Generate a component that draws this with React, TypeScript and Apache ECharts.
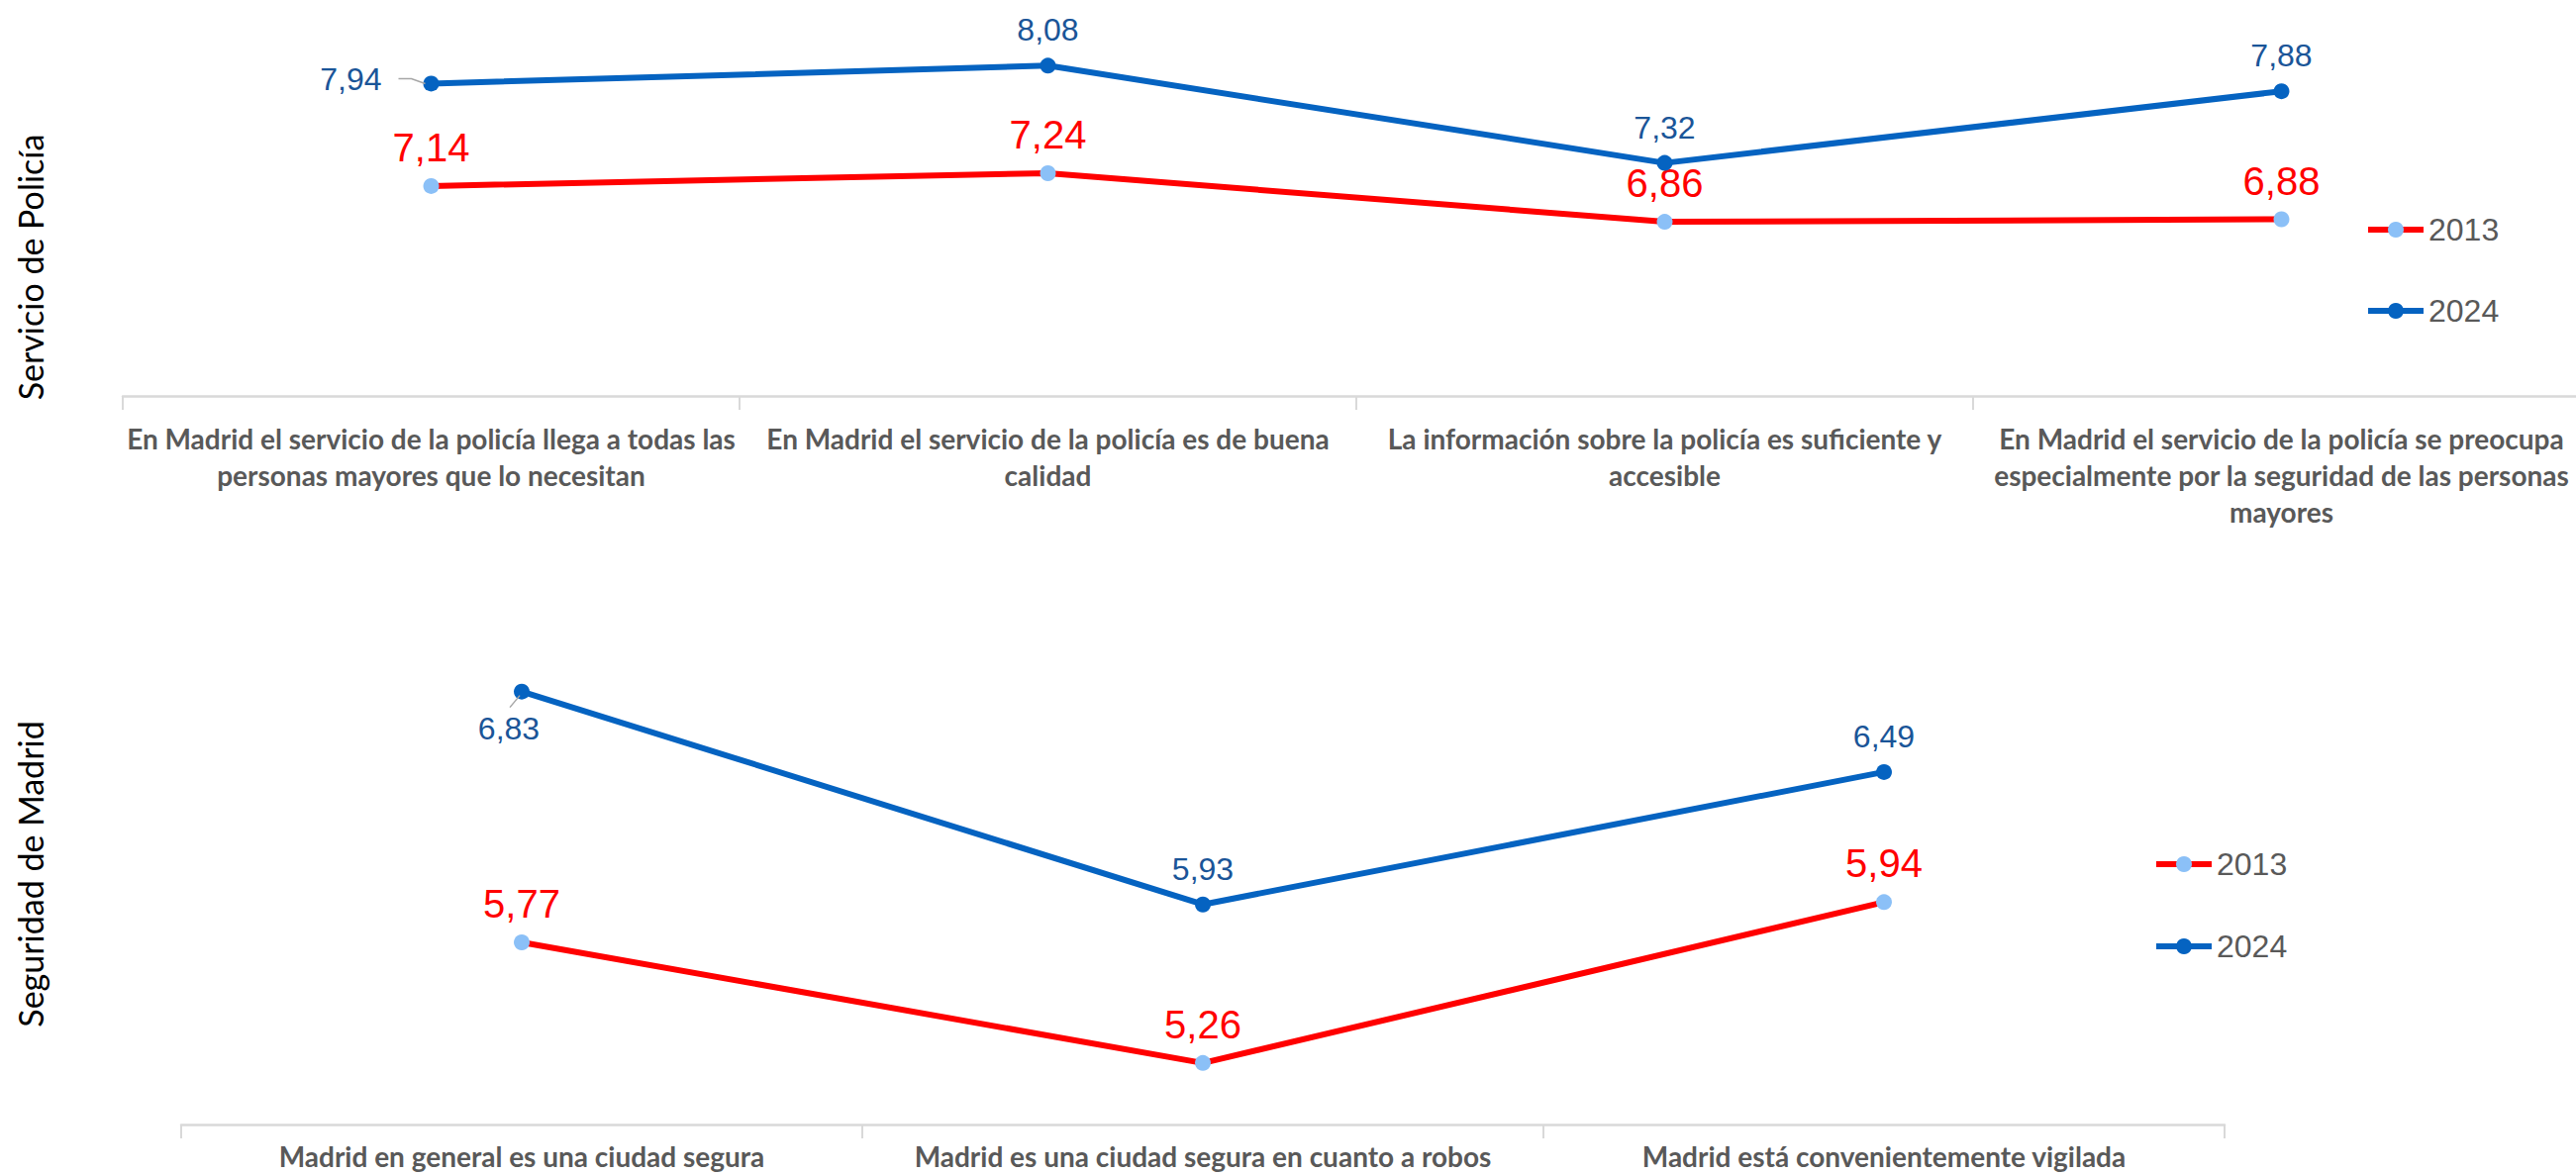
import React, { useEffect, useRef } from "react";
import * as echarts from "echarts";

const seriesNames = ["2013", "2024"];

const policeCategories = [
  "En Madrid el servicio de la policía llega a todas las\npersonas mayores que lo necesitan",
  "En Madrid el servicio de la policía es de buena\ncalidad",
  "La información sobre la policía es suficiente y\naccesible",
  "En Madrid el servicio de la policía se preocupa\nespecialmente por la seguridad de las personas\nmayores",
];
const police2013 = [7.14, 7.24, 6.86, 6.88];
const police2024 = [7.94, 8.08, 7.32, 7.88];

const safetyCategories = [
  "Madrid en general es una ciudad segura",
  "Madrid es una ciudad segura en cuanto a robos",
  "Madrid está convenientemente vigilada",
];
const safety2013 = [5.77, 5.26, 5.94];
const safety2024 = [6.83, 5.93, 6.49];

const panelTitles = ["Servicio de Policía", "Seguridad de Madrid"];

const RED = "#FF0000";
const RED_MARK = "#8BC0F7";
const BLUE = "#0563C1";
const BLUE_LABEL = "#1A5598";
const GREY_TEXT = "#595959";
const AXIS_GREY = "#D9D9D9";
const NUM_FONT = "'Liberation Sans', Arial, sans-serif";
const CAT_FONT = "Lato, 'Open Sans', sans-serif";

const fmt = (p: any) => Number(p.value).toFixed(2).replace(".", ",");

function makeSeries(
  name: string,
  values: number[],
  axisIndex: number,
  isRed: boolean,
  overrides: Record<number, any>
) {
  return {
    type: "line",
    name,
    xAxisIndex: axisIndex,
    yAxisIndex: axisIndex,
    symbol: "circle",
    symbolSize: 16,
    z: isRed ? 3 : 4,
    lineStyle: { color: isRed ? RED : BLUE, width: 6 },
    itemStyle: { color: isRed ? RED_MARK : BLUE },
    label: {
      show: true,
      position: "top",
      distance: isRed ? 11 : 12,
      color: isRed ? RED : BLUE_LABEL,
      fontSize: isRed ? 40 : 32,
      fontFamily: NUM_FONT,
      formatter: fmt,
    },
    emphasis: { disabled: true },
    data: values.map((v, i) =>
      overrides[i] ? { value: v, label: overrides[i] } : v
    ),
  };
}

function catAxis(data: string[], gridIndex: number, margin: number, lineHeight: number) {
  return {
    type: "category",
    gridIndex,
    data,
    boundaryGap: true,
    axisLine: { show: true, lineStyle: { color: AXIS_GREY, width: 2.5 } },
    axisTick: { show: true, length: 14, lineStyle: { color: AXIS_GREY, width: 2 } },
    axisLabel: {
      interval: 0,
      margin,
      color: GREY_TEXT,
      fontFamily: CAT_FONT,
      fontWeight: "bold",
      fontSize: 28,
      lineHeight,
      align: "center",
    },
    splitLine: { show: false },
  };
}

function legendFor(name: string, left: number, top: number) {
  return {
    data: [name],
    left,
    top,
    padding: 0,
    itemWidth: 56,
    itemHeight: 20,
    selectedMode: false,
    lineStyle: { width: 6 },
    textStyle: { color: GREY_TEXT, fontSize: 32, fontFamily: NUM_FONT },
  };
}

export default function App() {
  const ref = useRef<HTMLDivElement>(null);

  useEffect(() => {
    if (!ref.current) return;
    document.documentElement.style.overflow = "hidden";
    document.body.style.overflow = "hidden";
    const chart = echarts.init(ref.current, undefined, { renderer: "svg" });

    const titleStyle = (text: string) => ({
      text,
      fontFamily: CAT_FONT,
      fontSize: 34,
      fill: "#000000",
      align: "center",
      verticalAlign: "middle",
    });

    const option: any = {
      animation: false,
      backgroundColor: "#FFFFFF",
      grid: [
        { left: 124, right: -14, top: 12, bottom: 1186 - 400, outerBoundsMode: "none", containLabel: false },
        { left: 183, width: 2064, top: 658, bottom: 1186 - 1136, outerBoundsMode: "none", containLabel: false },
      ],
      xAxis: [
        catAxis(policeCategories, 0, 24, 37),
        catAxis(safetyCategories, 1, 16, 32),
      ],
      yAxis: [
        { type: "value", gridIndex: 0, min: 5.5, max: 8.5, show: false, splitLine: { show: false } },
        { type: "value", gridIndex: 1, min: 5, max: 7, show: false, splitLine: { show: false } },
      ],
      legend: [
        legendFor(seriesNames[0], 2389, 216),
        legendFor(seriesNames[1], 2389, 298),
        legendFor(seriesNames[0], 2175, 857),
        legendFor(seriesNames[1], 2175, 940),
      ],
      series: [
        makeSeries(seriesNames[0], police2013, 0, true, {}),
        makeSeries(seriesNames[1], police2024, 0, false, {
          0: { position: "left", distance: 42, offset: [0, -4] },
        }),
        makeSeries(seriesNames[0], safety2013, 1, true, {}),
        makeSeries(seriesNames[1], safety2024, 1, false, {
          0: { position: "bottom", distance: 13, offset: [-13, 0] },
        }),
      ],
      graphic: [
        { id: "title1", type: "text", x: 30, y: 270, rotation: Math.PI / 2, style: titleStyle(panelTitles[0]) },
        { id: "title2", type: "text", x: 30, y: 883, rotation: Math.PI / 2, style: titleStyle(panelTitles[1]) },
      ],
    };

    chart.setOption(option);

    // leader lines for the two displaced labels, positioned from the chart's own scales
    const p1 = chart.convertToPixel({ seriesIndex: 1 }, [0, police2024[0]]) as number[];
    const p2 = chart.convertToPixel({ seriesIndex: 3 }, [0, safety2024[0]]) as number[];
    if (p1 && p2) {
      chart.setOption({
        graphic: [
          {
            id: "leader1",
            type: "polyline",
            shape: {
              points: [
                [p1[0] - 33, p1[1] - 5],
                [p1[0] - 20, p1[1] - 5],
                [p1[0] - 6, p1[1]],
              ],
            },
            style: { stroke: "#A6A6A6", lineWidth: 1.5, fill: null },
            z: 10,
          },
          {
            id: "leader2",
            type: "line",
            shape: { x1: p2[0] - 2, y1: p2[1] + 4, x2: p2[0] - 12, y2: p2[1] + 16 },
            style: { stroke: "#A6A6A6", lineWidth: 1.5 },
            z: 10,
          },
        ],
      });
    }

    return () => chart.dispose();
  }, []);

  return (
    <div
      ref={ref}
      style={{ position: "absolute", left: 0, top: 0, width: 2602, height: 1186, background: "#fff" }}
    />
  );
}
